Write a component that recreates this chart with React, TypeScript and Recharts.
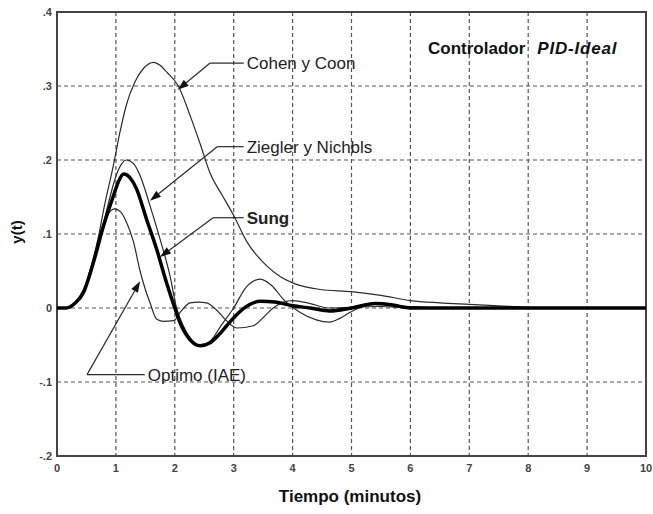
import { LineChart, Line, XAxis, YAxis, CartesianGrid, ReferenceLine, ReferenceArea } from 'recharts';

// tiempo (minutos) y respuesta y(t)
const timeTicks = [0, 1, 2, 3, 4, 5, 6, 7, 8, 9, 10];
const yTicks = [-0.2, -0.1, 0, 0.1, 0.2, 0.3, 0.4];

const cohenT = [0, 0.16, 0.3, 0.45, 0.6, 0.7, 0.81, 0.95, 1.07, 1.18, 1.32, 1.47, 1.64, 1.75, 1.86, 2.06, 2.26, 2.43, 2.6, 2.8, 3.0, 3.22, 3.56, 3.8, 4.0, 4.47, 5.0, 5.5, 6.0, 6.5, 7.0, 7.5, 8.0, 8.5, 10];
const cohenY = [0, 0, 0.007, 0.025, 0.062, 0.095, 0.14, 0.19, 0.238, 0.275, 0.305, 0.324, 0.332, 0.328, 0.319, 0.3, 0.26, 0.222, 0.182, 0.153, 0.125, 0.09, 0.057, 0.042, 0.034, 0.025, 0.022, 0.017, 0.01, 0.007, 0.005, 0.003, 0.001, 0, 0];

const zieglerT = [0, 0.16, 0.3, 0.45, 0.62, 0.79, 0.9, 1.0, 1.1, 1.18, 1.3, 1.41, 1.58, 1.75, 1.92, 2.03, 2.15, 2.3, 2.45, 2.6, 2.8, 3.0, 3.2, 3.45, 3.65, 3.84, 4.13, 4.4, 4.63, 4.8, 4.97, 5.2, 5.4, 5.7, 6.0, 6.5, 7, 10];
const zieglerY = [0, 0, 0.006, 0.021, 0.063, 0.115, 0.15, 0.178, 0.195, 0.2, 0.195, 0.179, 0.138, 0.093, 0.043, 0, -0.025, -0.044, -0.051, -0.045, -0.022, 0, 0.027, 0.039, 0.03, 0.012, -0.006, -0.016, -0.019, -0.014, -0.006, 0.002, 0.005, 0.004, 0.002, 0, 0, 0];

const sungT = [0, 0.16, 0.3, 0.45, 0.62, 0.79, 0.96, 1.05, 1.13, 1.25, 1.35, 1.52, 1.69, 1.86, 2.0, 2.09, 2.26, 2.43, 2.6, 2.75, 2.88, 3.05, 3.28, 3.45, 3.7, 4.0, 4.3, 4.63, 5.0, 5.4, 5.7, 6.0, 7, 8, 9, 10];
const sungY = [0, 0, 0.006, 0.021, 0.062, 0.111, 0.152, 0.172, 0.181, 0.175, 0.161, 0.12, 0.08, 0.034, 0, -0.02, -0.043, -0.051, -0.047, -0.036, -0.024, -0.009, 0.005, 0.009, 0.008, 0.003, 0, -0.004, 0, 0.006, 0.004, 0, 0, 0, 0, 0];

const optimoT = [0, 0.16, 0.3, 0.45, 0.62, 0.73, 0.85, 0.98, 1.08, 1.18, 1.3, 1.41, 1.5, 1.58, 1.69, 1.8, 1.98, 2.1, 2.26, 2.4, 2.54, 2.7, 2.85, 3.05, 3.33, 3.5, 3.67, 3.85, 4.0, 4.3, 4.6, 5.0, 5.5, 6, 10];
const optimoY = [0, 0, 0.006, 0.022, 0.065, 0.1, 0.125, 0.134, 0.13, 0.116, 0.089, 0.05, 0.025, 0.007, -0.015, -0.018, -0.017, -0.005, 0.007, 0.008, 0.007, -0.002, -0.015, -0.027, -0.024, -0.013, 0, 0.008, 0.01, 0.006, 0, 0.001, 0.002, 0, 0];

const toPoints = (ts: number[], ys: number[]) => ts.map((t, i) => ({ t, y: ys[i] }));

const cohen = toPoints(cohenT, cohenY);
const ziegler = toPoints(zieglerT, zieglerY);
const sung = toPoints(sungT, sungY);
const optimo = toPoints(optimoT, optimoY);

// anotaciones: texto, codo y punta de flecha (en unidades de datos)
const notes = [
  { text: 'Cohen y Coon', bold: false, label: { x: 3.17, y: 0.331 }, elbow: { x: 2.6, y: 0.331 }, tip: { x: 2.05, y: 0.295 } },
  { text: 'Ziegler y Nichbls', bold: false, label: { x: 3.17, y: 0.218 }, elbow: { x: 2.72, y: 0.218 }, tip: { x: 1.58, y: 0.145 } },
  { text: 'Sung', bold: true, label: { x: 3.17, y: 0.122 }, elbow: { x: 2.65, y: 0.122 }, tip: { x: 1.75, y: 0.069 } },
  { text: 'Optimo (IAE)', bold: false, label: { x: 1.49, y: -0.09 }, elbow: { x: 0.51, y: -0.09 }, tip: { x: 1.41, y: 0.036 } },
];

const ink = '#2b2b2b';

const fmtY = (v: number) => (v === 0 ? '0' : v.toFixed(1).replace('0.', '.'));

const arrowShape = (props: any) => {
  const { x1, y1, x2, y2 } = props;
  const ang = Math.atan2(y2 - y1, x2 - x1);
  const len = 11;
  const half = 3.8;
  const bx = x2 - len * Math.cos(ang);
  const by = y2 - len * Math.sin(ang);
  const px = -Math.sin(ang) * half;
  const py = Math.cos(ang) * half;
  return (
    <g>
      <line x1={x1} y1={y1} x2={bx} y2={by} stroke={ink} strokeWidth={1.2} />
      <polygon points={`${x2},${y2} ${bx + px},${by + py} ${bx - px},${by - py}`} fill="#111" />
    </g>
  );
};

const labelShape = (text: string, bold: boolean) => (props: any) => {
  const { x1, y1, x2, y2 } = props;
  return (
    <g>
      <line x1={x1} y1={y1} x2={x2} y2={y2} stroke={ink} strokeWidth={1.2} />
      <text
        x={x2 + 3}
        y={y2}
        dy="0.36em"
        fontSize={17}
        fontWeight={bold ? 'bold' : 'normal'}
        fill="#222"
        fontFamily="Liberation Sans, Arial, sans-serif"
      >
        {text}
      </text>
    </g>
  );
};

export default function App() {
  return (
    <div style={{ position: 'absolute', left: 0, top: 0, width: 653, height: 514, background: '#fff', fontFamily: 'Liberation Sans, Arial, sans-serif' }}>
      <LineChart width={653} height={514} margin={{ top: 12, right: 7, bottom: 0, left: 0 }}>
        <CartesianGrid stroke="#555" strokeDasharray="4 3" strokeWidth={1.2} />
        <XAxis
          dataKey="t"
          type="number"
          domain={[0, 10]}
          ticks={timeTicks}
          height={58}
          axisLine={false}
          tickLine={false}
          tickSize={4}
          tickMargin={4}
          tick={{ fill: '#444', fontSize: 11, fontWeight: 'bold' }}
          allowDuplicatedCategory={false}
        />
        <YAxis
          type="number"
          domain={[-0.2, 0.4]}
          ticks={yTicks}
          width={57}
          axisLine={false}
          tickLine={false}
          tickSize={4}
          tickMargin={1}
          tickFormatter={fmtY}
          tick={{ fill: '#444', fontSize: 11, fontWeight: 'bold' }}
        />
        <Line data={cohen} dataKey="y" type="monotone" stroke={ink} strokeWidth={1.2} dot={false} isAnimationActive={false} />
        <Line data={ziegler} dataKey="y" type="monotone" stroke={ink} strokeWidth={1.2} dot={false} isAnimationActive={false} />
        <Line data={optimo} dataKey="y" type="monotone" stroke={ink} strokeWidth={1.2} dot={false} isAnimationActive={false} />
        <Line data={sung} dataKey="y" type="monotone" stroke="#000" strokeWidth={3.5} dot={false} isAnimationActive={false} />
        {notes.map((n) => (
          <ReferenceLine key={n.text + 'a'} segment={[n.elbow, n.tip]} shape={arrowShape} ifOverflow="visible" />
        ))}
        {notes.map((n) => (
          <ReferenceLine key={n.text + 'b'} segment={[n.elbow, n.label]} shape={labelShape(n.text, n.bold)} ifOverflow="visible" />
        ))}
        <ReferenceArea x1={0} x2={10} y1={-0.2} y2={0.4} fill="none" stroke="#444" strokeWidth={2} ifOverflow="visible" />
      </LineChart>
      <div style={{ position: 'absolute', left: 428, top: 39, fontSize: 17, fontWeight: 'bold', color: '#111', whiteSpace: 'nowrap' }}>
        Controlador<span style={{ display: 'inline-block', width: 12 }} /><i style={{ letterSpacing: 0.8 }}>PID-Ideal</i>
      </div>
      <div style={{ position: 'absolute', left: 0, width: 700, top: 487, textAlign: 'center', fontSize: 17, fontWeight: 'bold', color: '#111' }}>
        Tiempo (minutos)
      </div>
      <div style={{ position: 'absolute', left: 16, top: 232, transform: 'translate(-50%, -50%) rotate(-90deg)', fontSize: 15, fontWeight: 'bold', color: '#111', whiteSpace: 'nowrap' }}>
        y(t)
      </div>
    </div>
  );
}
